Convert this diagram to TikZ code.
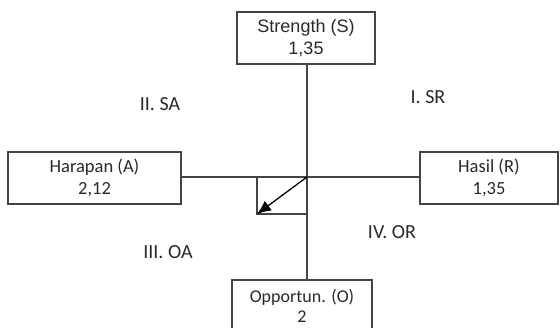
\documentclass[tikz,border=0pt]{standalone}
\usepackage{fontspec}
\setmainfont{Carlito}
\newfontfamily\arialf{Liberation Sans}
\usetikzlibrary{arrows.meta}
\definecolor{ln}{HTML}{444444}
\definecolor{tx}{HTML}{2A2A2A}
\tikzset{
  box/.style={draw=ln, line width=1.1pt, text=tx, align=center, inner sep=0pt},
  conn/.style={draw=ln, line width=1.1pt},
  arr/.style={draw=black, line width=1.3pt, -{Latex[length=14pt,width=12pt]}},
  quad/.style={text=tx, font=\fontsize{20}{22}\selectfont, inner sep=0pt}
}
\begin{document}
\begin{tikzpicture}[x=1pt,y=-1pt]
\useasboundingbox (0,0) rectangle (560,328);
\fill[white] (0,0) rectangle (560,328);
% boxes
\node[box, minimum width=138pt, minimum height=52pt, font=\arialf\fontsize{18}{22}\selectfont] (S) at (306,38) {Strength (S)\\1,35};
\node[box, minimum width=173pt, minimum height=52pt, font=\fontsize{18.5}{22}\selectfont] (A) at (94.5,178) {Harapan (A)\\2,12};
\node[box, minimum width=138pt, minimum height=52pt, font=\fontsize{18.5}{22}\selectfont] (R) at (489,178) {Hasil (R)\\1,35};
\node[box, minimum width=140pt, minimum height=52pt, font=\fontsize{18}{20}\selectfont] (O) at (302,306) {Opportun. (O)\\2};
\coordinate (C) at (307,177);
\coordinate (P) at (257,214);
\draw[conn] (S.south -| C) -- (C);
\draw[conn] (C) -- (O.north -| C);
\draw[conn] (A.east |- C) -- (C);
\draw[conn] (C) -- (R.west |- C);
% small square
\draw[conn] (C -| P) -- (P) -- (P -| C);
\draw[arr] (C) -- (P);
% quadrant labels
\node[quad] (q2) at (160,104) {II. SA};
\node[quad] (q1) at (428,97) {I. SR};
\node[quad] (q4) at (392,232) {IV. OR};
\node[quad] (q3) at (168,252) {III. OA};
\end{tikzpicture}
\end{document}
